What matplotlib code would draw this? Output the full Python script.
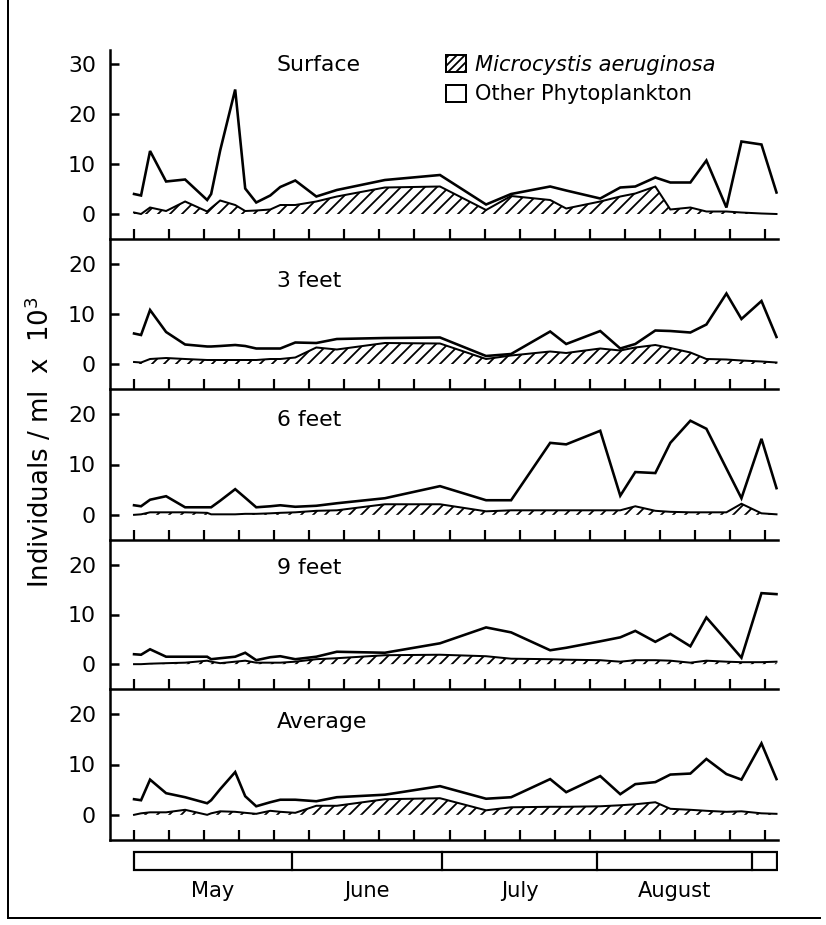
import matplotlib
matplotlib.use('Agg')
import matplotlib.pyplot as plt
from matplotlib.patches import Patch, Rectangle
from matplotlib.lines import Line2D

# ---------------- data (days after 1 May, values in individuals/ml x 10^3) -------------
days = [0, 1.4, 3.2, 6.4, 10.2, 14.6, 15.4, 17.2, 20.2, 22.2, 24.4, 27.2, 29.2, 32.2,
        36.4, 40.5, 50.1, 61.1, 70.3, 75.3, 83.1, 86.3, 93.1, 97.1, 100.1, 104.1,
        107.1, 111.1, 114.3, 118.3, 121.3, 125.3, 128.3]

surface_total = [4.0, 3.7, 12.6, 6.5, 6.9, 2.8, 4.0, 12.7, 24.9, 5.1, 2.3, 3.7, 5.4, 6.7,
                 3.5, 4.8, 6.8, 7.8, 1.9, 4.0, 5.5, 4.7, 3.1, 5.3, 5.5, 7.3, 6.3, 6.3,
                 10.7, 1.3, 14.5, 13.9, 4.3]
surface_micro = [0.3, 0.0, 1.3, 0.6, 2.5, 0.5, 1.2, 2.7, 1.8, 0.6, 0.7, 0.9, 1.8, 1.8,
                 2.5, 3.5, 5.3, 5.5, 0.8, 3.6, 2.8, 1.1, 2.5, 3.5, 4.1, 5.5, 0.9, 1.3,
                 0.5, 0.5, 0.3, 0.1, 0.0]

ft3_total = [6.1, 5.8, 10.8, 6.4, 3.9, 3.5, 3.5, 3.6, 3.8, 3.6, 3.1, 3.1, 3.1, 4.3,
             4.2, 5.0, 5.2, 5.3, 1.6, 2.0, 6.5, 4.0, 6.6, 3.1, 4.0, 6.7, 6.6, 6.3,
             7.9, 14.1, 9.0, 12.6, 5.4]
ft3_micro = [0.4, 0.3, 1.0, 1.2, 1.0, 0.8, 0.8, 0.8, 0.8, 0.8, 0.8, 1.0, 1.0, 1.3,
             3.3, 2.9, 4.2, 4.1, 1.0, 1.7, 2.5, 2.2, 3.1, 2.7, 3.3, 3.8, 3.2, 2.3,
             1.0, 0.9, 0.7, 0.5, 0.3]

ft6_total = [1.9, 1.7, 3.0, 3.7, 1.5, 1.5, 1.5, 2.8, 5.1, 3.4, 1.5, 1.7, 1.9, 1.6,
             1.8, 2.3, 3.3, 5.7, 2.9, 2.9, 14.3, 14.0, 16.7, 3.8, 8.5, 8.3, 14.3, 18.7,
             17.1, 9.2, 3.3, 15.1, 5.3]
ft6_micro = [0.0, 0.1, 0.5, 0.5, 0.5, 0.4, 0.1, 0.1, 0.1, 0.2, 0.2, 0.3, 0.4, 0.5,
             0.8, 0.9, 2.1, 2.1, 0.7, 0.9, 0.9, 0.9, 0.9, 0.9, 1.7, 0.8, 0.6, 0.5,
             0.5, 0.5, 2.2, 0.3, 0.1]

ft9_total = [2.0, 1.9, 3.0, 1.5, 1.5, 1.5, 1.0, 1.2, 1.5, 2.3, 0.8, 1.4, 1.6, 1.0,
             1.5, 2.5, 2.3, 4.2, 7.4, 6.4, 2.8, 3.3, 4.6, 5.4, 6.7, 4.5, 6.1, 3.6,
             9.4, 4.8, 1.3, 14.3, 14.1]
ft9_micro = [0.0, 0.0, 0.1, 0.2, 0.3, 0.7, 0.5, 0.2, 0.5, 0.7, 0.3, 0.3, 0.3, 0.5,
             1.0, 1.2, 1.8, 1.9, 1.6, 1.1, 1.0, 0.9, 0.8, 0.5, 0.8, 0.8, 0.7, 0.3,
             0.7, 0.5, 0.4, 0.4, 0.5]

avg_total = [3.1, 2.9, 7.0, 4.3, 3.5, 2.3, 2.9, 5.1, 8.5, 3.7, 1.7, 2.5, 3.0, 3.0,
             2.7, 3.5, 4.0, 5.7, 3.2, 3.5, 7.1, 4.5, 7.7, 4.1, 6.1, 6.5, 8.0, 8.2,
             11.1, 8.1, 7.0, 14.2, 7.1]
avg_micro = [0.0, 0.3, 0.5, 0.5, 1.0, 0.0, 0.3, 0.7, 0.6, 0.4, 0.2, 0.8, 0.6, 0.4,
             1.8, 1.8, 3.1, 3.3, 0.9, 1.5, 1.6, 1.6, 1.7, 1.9, 2.1, 2.5, 1.2, 1.0,
             0.8, 0.6, 0.7, 0.3, 0.2]

panel_names = ["Surface", "3 feet", "6 feet", "9 feet", "Average"]
totals = [surface_total, ft3_total, ft6_total, ft9_total, avg_total]
micros = [surface_micro, ft3_micro, ft6_micro, ft9_micro, avg_micro]
yticks_list = [[0, 10, 20, 30], [0, 10, 20], [0, 10, 20], [0, 10, 20], [0, 10, 20]]

week_ticks = list(range(0, 127, 7))
month_names = ["May", "June", "July", "August"]
month_lengths = [31, 30, 31, 31]

legend_labels = ["Microcystis aeruginosa", "Other Phytoplankton"]
ylabel = r"Individuals / ml  x  10$^3$"

# ---------------- layout (pixels) ----------------
W, H = 826, 925
DPI = 72
plt.rcParams['font.family'] = ['DejaVu Sans']
plt.rcParams['hatch.linewidth'] = 1.8
fig = plt.figure(figsize=(W / DPI, H / DPI), dpi=DPI)
fig.patch.set_facecolor('white')

def fx(px):
    return px / W

def fy(py):
    return 1 - py / H

X0, X1 = 110, 778
panel_tops = [50, 239, 389, 540, 689]
panel_bots = [239, 389, 540, 689, 840]
ylims = [(-5, 32.8), (-5, 25), (-5, 25), (-5, 25), (-5, 25)]
label_y = [65, 281, 420, 568, 722]
XLIM = (-4.8, 128.6)

axes = []
for i in range(5):
    top, bot = panel_tops[i], panel_bots[i]
    ax = fig.add_axes([fx(X0), fy(bot), (X1 - X0) / W, (bot - top) / H])
    ax.set_xlim(*XLIM)
    ax.set_ylim(*ylims[i])
    ax.patch.set_alpha(0)
    ax.fill_between(days, 0, micros[i], facecolor='none', edgecolor='black',
                    hatch='//', linewidth=0)
    ax.plot(days, micros[i], color='black', lw=2.0, solid_joinstyle='miter')
    ax.plot(days, totals[i], color='black', lw=2.6, solid_joinstyle='miter')
    for s in ['top', 'right']:
        ax.spines[s].set_visible(False)
    for s in ['left', 'bottom']:
        ax.spines[s].set_linewidth(2.5)
    ax.set_xticks(week_ticks)
    ax.tick_params(axis='x', direction='in', length=10, width=2.2,
                   labelbottom=False)
    ax.set_yticks(yticks_list[i])
    ax.tick_params(axis='y', direction='in', length=9, width=2.5,
                   labelsize=22, pad=14)
    fig.text(fx(277), fy(label_y[i]), panel_names[i], fontsize=22,
             ha='left', va='center')
    axes.append(ax)

# legend
handles = [Patch(facecolor='white', edgecolor='black', hatch='///', linewidth=2),
           Patch(facecolor='white', edgecolor='black', linewidth=2)]
leg = fig.legend(handles, legend_labels, loc='upper left',
                 bbox_to_anchor=(fx(446), fy(55)), frameon=False, fontsize=21,
                 handlelength=0.95, handleheight=0.85, handletextpad=0.45,
                 labelspacing=0.45, borderpad=0, borderaxespad=0)
leg.get_texts()[0].set_style('italic')

# y label
fig.text(fx(40), fy(442), ylabel, rotation=90, fontsize=26,
         ha='center', va='center')

# month bar
axm = fig.add_axes([fx(X0), fy(905), (X1 - X0) / W, 60 / H])
axm.set_xlim(*XLIM)
axm.set_ylim(905, 845)
axm.axis('off')
bar_start, bar_end = 0, 128.4
axm.add_patch(Rectangle((bar_start, 852), bar_end - bar_start, 18,
                        facecolor='white', edgecolor='black', lw=2.2))
edge = 0.5
starts = []
for n, L in zip(month_names, month_lengths):
    starts.append(edge)
    edge += L
bounds = [bar_start] + starts[1:] + [edge]
for b in starts[1:] + [edge]:
    axm.plot([b, b], [852, 870], color='black', lw=2.2)
for j, n in enumerate(month_names):
    c = (bounds[j] + bounds[j + 1]) / 2
    axm.text(c, 891, n, fontsize=21, ha='center', va='center')

# frame (left and bottom edges)
fig.add_artist(Line2D([fx(8), fx(8)], [fy(0), fy(918)], transform=fig.transFigure,
                      color='black', lw=2))
fig.add_artist(Line2D([fx(8), fx(820)], [fy(918), fy(918)], transform=fig.transFigure,
                      color='black', lw=2))

fig.savefig('out.png', dpi=DPI)
